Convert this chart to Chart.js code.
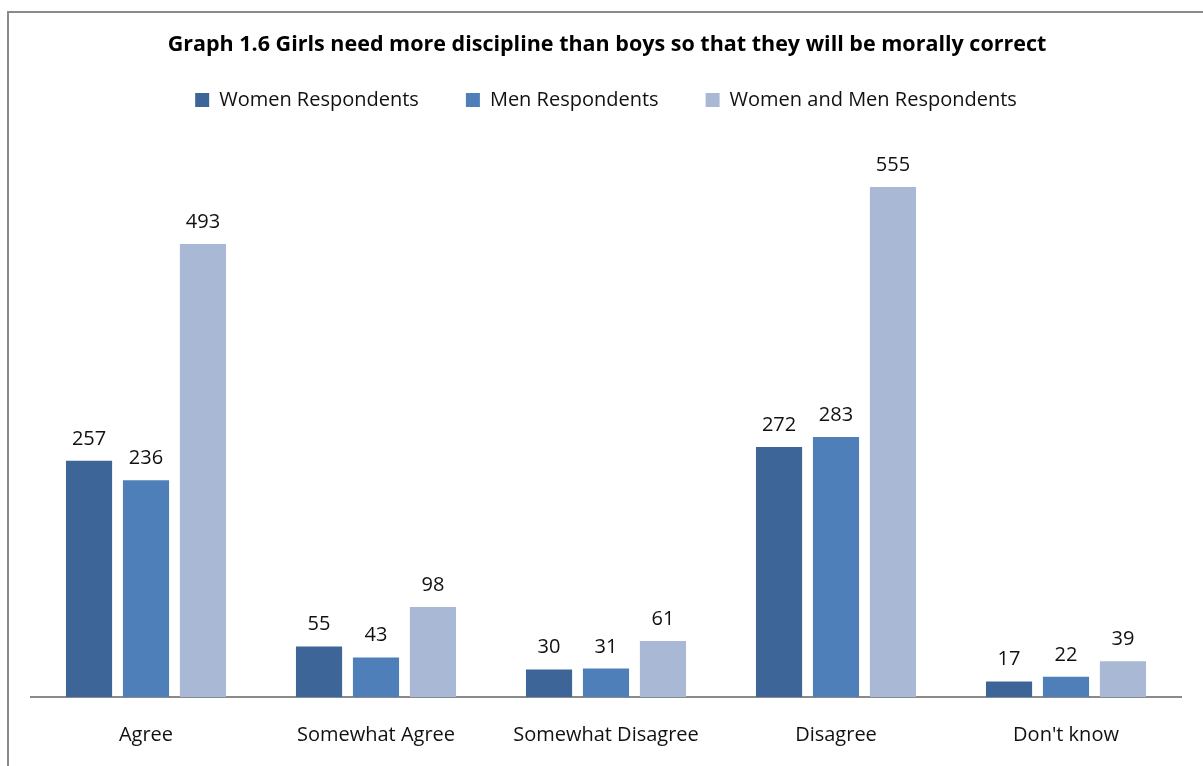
<!DOCTYPE html>
<html>
<head>
<meta charset="utf-8">
<script src="https://cdn.jsdelivr.net/npm/chart.js@4"></script>
<style>
  html, body { margin: 0; padding: 0; background: #fff; }
  #wrap { width: 1203px; height: 766px; position: relative; }
</style>
</head>
<body>
<div id="wrap"><canvas id="c" width="1203" height="766"></canvas></div>
<script>
const categories = ["Agree", "Somewhat Agree", "Somewhat Disagree", "Disagree", "Don't know"];
const seriesNames = ["Women Respondents", "Men Respondents", "Women and Men Respondents"];
const womenValues = [257, 55, 30, 272, 17];
const menValues = [236, 43, 31, 283, 22];
const bothValues = [493, 98, 61, 555, 39];
const seriesColors = ["#3E6597", "#4E7FB8", "#A9B9D5"];
const titleText = "Graph 1.6 Girls need more discipline than boys so that they will be morally correct";

const FONT = "'Open Sans', Lato, sans-serif";

// outer frame and heading
const framePlugin = {
  id: 'frame',
  beforeDraw(chart) {
    const ctx = chart.ctx;
    ctx.save();
    ctx.strokeStyle = '#8a8a8a';
    ctx.lineWidth = 2;
    ctx.beginPath();
    ctx.moveTo(8, 800);
    ctx.lineTo(8, 12);
    ctx.lineTo(1250, 12);
    ctx.stroke();

    ctx.fillStyle = '#000';
    ctx.font = "bold 21.5px " + FONT;
    ctx.textAlign = 'center';
    ctx.textBaseline = 'middle';
    ctx.fillText(titleText, 607, 44.5);
    ctx.restore();
  }
};

// value labels above each bar
const valueLabels = {
  id: 'valueLabels',
  afterDatasetsDraw(chart) {
    const ctx = chart.ctx;
    ctx.save();
    ctx.font = "20px " + FONT;
    ctx.fillStyle = '#111';
    ctx.textAlign = 'center';
    ctx.textBaseline = 'alphabetic';
    chart.data.datasets.forEach((ds, i) => {
      const meta = chart.getDatasetMeta(i);
      meta.data.forEach((bar, j) => {
        ctx.fillText(String(ds.data[j]), bar.x, bar.y - 16);
      });
    });
    ctx.restore();
  }
};

new Chart(document.getElementById('c'), {
  type: 'bar',
  data: {
    labels: categories,
    datasets: [
      { label: seriesNames[0], data: womenValues, backgroundColor: seriesColors[0] },
      { label: seriesNames[1], data: menValues, backgroundColor: seriesColors[1] },
      { label: seriesNames[2], data: bothValues, backgroundColor: seriesColors[2] }
    ]
  },
  options: {
    responsive: false,
    animation: false,
    categoryPercentage: 0.743,
    barPercentage: 0.81,
    layout: { padding: { left: 31, right: 22, top: 43, bottom: 0 } },
    plugins: {
      title: { display: false },
      legend: {
        display: true,
        position: 'top',
        labels: {
          color: '#111',
          font: { family: FONT, size: 20 },
          boxWidth: 14,
          boxHeight: 14,
          padding: 47
        }
      },
      tooltip: { enabled: false }
    },
    scales: {
      x: {
        grid: { display: false, drawTicks: false },
        border: { display: true, color: '#8a8a8a', width: 2 },
        ticks: { color: '#111', font: { family: FONT, size: 20 }, padding: 26 },
        afterFit(scale) { scale.height = 69; }
      },
      y: {
        display: false,
        min: 0,
        max: 628
      }
    }
  },
  plugins: [framePlugin, valueLabels]
});
</script>
</body>
</html>
